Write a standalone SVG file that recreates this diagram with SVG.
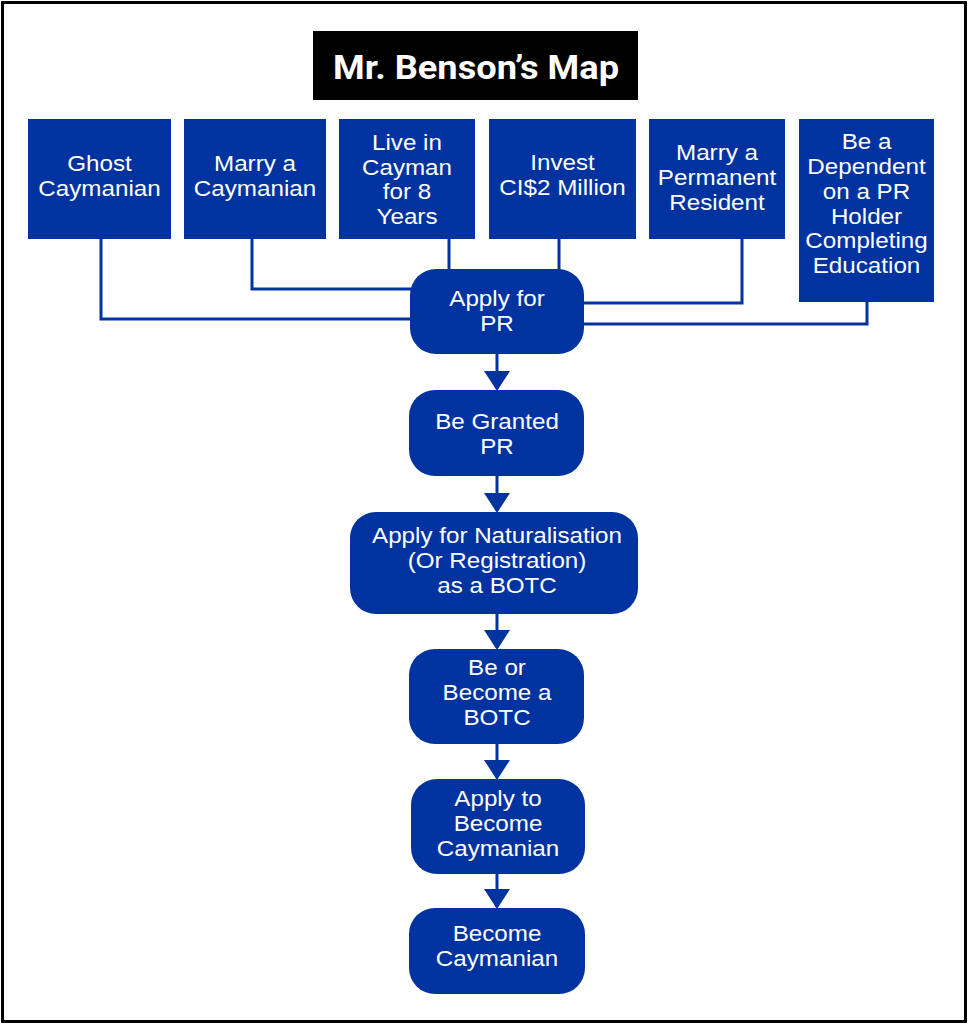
<svg xmlns="http://www.w3.org/2000/svg" width="968" height="1024" viewBox="0 0 968 1024">
<style>
.b{fill:#0033a0}
.t{fill:#fff;font-family:"Liberation Sans",Arial,sans-serif;font-size:22px;text-anchor:middle}
.c{fill:none;stroke:#0033a0;stroke-width:3}
</style>
<defs>
<marker id="ah" markerUnits="userSpaceOnUse" markerWidth="20" markerHeight="26" refX="18" refY="13" orient="auto" viewBox="0 0 20 26">
<path d="M0,0 L20,13 L0,26 Z" fill="#0033a0"/>
</marker>
</defs>
<rect x="0" y="0" width="968" height="1024" fill="#fff"/>
<rect x="2.5" y="2.5" width="963" height="1019" fill="none" stroke="#000" stroke-width="3"/>
<g id="title">
<rect x="313" y="31" width="325" height="69" fill="#000"/>
<text x="476" y="79" fill="#fff" font-family="Roboto,'Liberation Sans',sans-serif" font-weight="bold" font-size="34" text-anchor="middle" textLength="286" lengthAdjust="spacingAndGlyphs">Mr. Benson’s Map</text>
</g>
<g id="connectors">
<polyline class="c" points="101,239 101,319 412,319"/>
<polyline class="c" points="252,239 252,289 412,289"/>
<line class="c" x1="449" y1="239" x2="449" y2="271"/>
<line class="c" x1="559" y1="239" x2="559" y2="271"/>
<polyline class="c" points="742,239 742,303 582,303"/>
<polyline class="c" points="867,302 867,324 582,324"/>
<line class="c" x1="497" y1="354" x2="497" y2="389" marker-end="url(#ah)"/>
<line class="c" x1="497" y1="476" x2="497" y2="511" marker-end="url(#ah)"/>
<line class="c" x1="497" y1="614" x2="497" y2="648" marker-end="url(#ah)"/>
<line class="c" x1="497" y1="744" x2="497" y2="778" marker-end="url(#ah)"/>
<line class="c" x1="497" y1="874" x2="497" y2="907" marker-end="url(#ah)"/>
</g>
<g id="ghost">
<rect class="b" x="28" y="119" width="143" height="120"/>
<text class="t" transform="translate(99.5,0) scale(1.1,1)" y="171"><tspan x="0">Ghost</tspan><tspan x="0" dy="24.7">Caymanian</tspan></text>
</g>
<g id="marry-caymanian">
<rect class="b" x="184" y="119" width="142" height="120"/>
<text class="t" transform="translate(255,0) scale(1.1,1)" y="171"><tspan x="0">Marry a</tspan><tspan x="0" dy="24.7">Caymanian</tspan></text>
</g>
<g id="live">
<rect class="b" x="339" y="119" width="136" height="120"/>
<text class="t" transform="translate(407,0) scale(1.1,1)" y="150"><tspan x="0">Live in</tspan><tspan x="0" dy="24.7">Cayman</tspan><tspan x="0" dy="24.7">for 8</tspan><tspan x="0" dy="24.7">Years</tspan></text>
</g>
<g id="invest">
<rect class="b" x="489" y="119" width="147" height="120"/>
<text class="t" transform="translate(562.5,0) scale(1.1,1)" y="170"><tspan x="0">Invest</tspan><tspan x="0" dy="24.7">CI$2 Million</tspan></text>
</g>
<g id="marry-pr">
<rect class="b" x="649" y="119" width="136" height="120"/>
<text class="t" transform="translate(717,0) scale(1.1,1)" y="160.5"><tspan x="0">Marry a</tspan><tspan x="0" dy="24.7">Permanent</tspan><tspan x="0" dy="24.7">Resident</tspan></text>
</g>
<g id="dependent">
<rect class="b" x="799" y="119" width="135" height="183"/>
<text class="t" transform="translate(866.5,0) scale(1.1,1)" y="149.5"><tspan x="0">Be a</tspan><tspan x="0" dy="24.7">Dependent</tspan><tspan x="0" dy="24.7">on a PR</tspan><tspan x="0" dy="24.7">Holder</tspan><tspan x="0" dy="24.7">Completing</tspan><tspan x="0" dy="24.7">Education</tspan></text>
</g>
<g id="apply-pr">
<rect class="b" x="410" y="269" width="174" height="85" rx="26"/>
<text class="t" transform="translate(497,0) scale(1.1,1)" y="306"><tspan x="0">Apply for</tspan><tspan x="0" dy="24.7">PR</tspan></text>
</g>
<g id="granted">
<rect class="b" x="409" y="390" width="175" height="86" rx="26"/>
<text class="t" transform="translate(497,0) scale(1.1,1)" y="429"><tspan x="0">Be Granted</tspan><tspan x="0" dy="24.7">PR</tspan></text>
</g>
<g id="naturalisation">
<rect class="b" x="350" y="512" width="288" height="102" rx="26"/>
<text class="t" transform="translate(497,0) scale(1.1,1)" y="543.5"><tspan x="0">Apply for Naturalisation</tspan><tspan x="0" dy="24.7">(Or Registration)</tspan><tspan x="0" dy="24.7">as a BOTC</tspan></text>
</g>
<g id="botc">
<rect class="b" x="409" y="649" width="175" height="95" rx="26"/>
<text class="t" transform="translate(497,0) scale(1.1,1)" y="675.5"><tspan x="0">Be or</tspan><tspan x="0" dy="24.7">Become a</tspan><tspan x="0" dy="24.7">BOTC</tspan></text>
</g>
<g id="apply-caymanian">
<rect class="b" x="411" y="779" width="174" height="95" rx="26"/>
<text class="t" transform="translate(498,0) scale(1.1,1)" y="806.5"><tspan x="0">Apply to</tspan><tspan x="0" dy="24.7">Become</tspan><tspan x="0" dy="24.7">Caymanian</tspan></text>
</g>
<g id="become">
<rect class="b" x="409" y="908" width="176" height="86" rx="26"/>
<text class="t" transform="translate(497,0) scale(1.1,1)" y="941"><tspan x="0">Become</tspan><tspan x="0" dy="24.7">Caymanian</tspan></text>
</g>
</svg>
